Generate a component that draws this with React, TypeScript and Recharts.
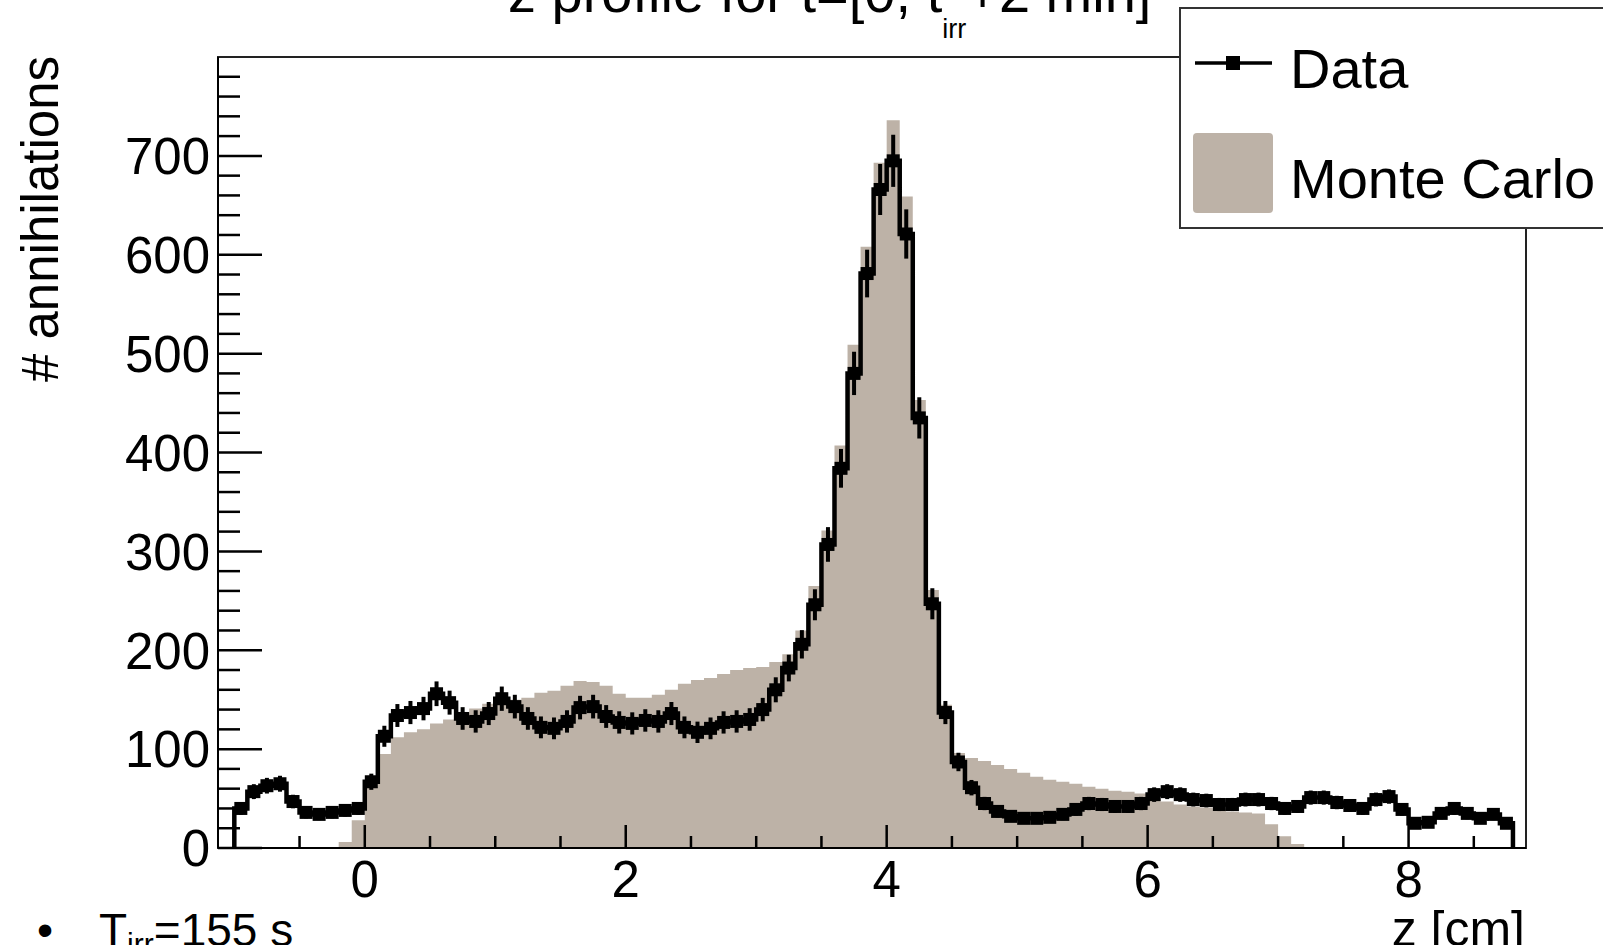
import { ComposedChart, Area, Line, XAxis, YAxis, ErrorBar, ReferenceArea } from "recharts";

const FONT = "'Liberation Sans', Arial, Helvetica, sans-serif";
const MC_COLOR = "#bdb2a7";

// histogram binning: 98 bins of 0.1 cm starting at z = -1.0 cm
const Z_START = -1.0;
const BIN_WIDTH = 0.1;

// measured counts per bin (Data)
const dataCounts = [
  40, 57, 63, 65, 47, 36, 34, 36, 38, 40,
  67, 113, 134, 137, 141, 156, 147, 131, 128, 136,
  151, 143, 131, 122, 121, 128, 142, 143, 133, 127,
  126, 129, 128, 136, 122, 117, 121, 127, 128, 130,
  140, 160, 182, 206, 246, 307, 384, 480, 581, 666,
  695, 621, 435, 247, 137, 87, 61, 45, 37, 32,
  30, 30, 31, 34, 39, 45, 44, 42, 42, 45,
  54, 57, 54, 49, 48, 44, 44, 49, 49, 45,
  40, 42, 51, 51, 46, 43, 40, 49, 52, 39,
  25, 26, 35, 40, 35, 30, 34, 25,
];

// simulated counts per bin (Monte Carlo)
const mcCounts = [
  0, 0, 0, 0, 0, 0, 0, 0, 6, 28,
  62, 95, 112, 117, 120, 126, 130, 136, 141, 146,
  150, 150, 152, 157, 159, 164, 169, 168, 164, 156,
  152, 152, 155, 160, 166, 170, 172, 176, 180, 182,
  183, 188, 196, 220, 265, 321, 407, 509, 608, 693,
  736, 659, 453, 261, 145, 96, 91, 88, 84, 80,
  76, 72, 69, 67, 65, 62, 60, 58, 57, 55,
  50, 47, 44, 42, 41, 39, 37, 36, 35, 24,
  12, 4, 1, 0, 0, 0, 0, 0, 0, 0,
  0, 0, 0, 0, 0, 0, 0, 0,
];

const yMajorTicks = [0, 100, 200, 300, 400, 500, 600, 700];
const yTicks = Array.from({ length: 40 }, (_, i) => i * 20);
const xMajorTicks = [0, 2, 4, 6, 8];
const xTicks = Array.from({ length: 20 }, (_, i) => -1 + i * 0.5);

const legendItems = [
  { name: "Data", kind: "marker", y: 63, baseline: 88 },
  { name: "Monte Carlo", kind: "fill", y: 173, baseline: 198 },
];

const r2 = (v: number) => Math.round(v * 1000) / 1000;
const lowEdges = dataCounts.map((_, i) => r2(Z_START + i * BIN_WIDTH));
const zEnd = r2(Z_START + dataCounts.length * BIN_WIDTH);

const stepsOf = (counts: number[]) => [
  { x: Z_START, v: 0 },
  ...counts.map((c, i) => ({ x: lowEdges[i], v: c })),
  { x: zEnd, v: 0 },
];
const dataSteps = stepsOf(dataCounts);
const mcSteps = stepsOf(mcCounts);
const dataPoints = dataCounts.map((c, i) => ({
  x: r2(lowEdges[i] + BIN_WIDTH / 2),
  v: c,
  err: Math.sqrt(c),
}));

const renderYTick = (props: any) => {
  const { x, y, payload } = props;
  const major = yMajorTicks.includes(payload.value);
  return (
    <g>
      <line x1={x} x2={x + (major ? 44 : 22)} y1={y} y2={y} stroke="#000" strokeWidth={2.5} />
      {major && (
        <text x={x - 8} y={y} dy="0.36em" textAnchor="end" fontSize={51} fontFamily={FONT} fill="#000">
          {payload.value}
        </text>
      )}
    </g>
  );
};

const renderXTick = (props: any) => {
  const { x, y, payload } = props;
  const major = xMajorTicks.includes(payload.value);
  return (
    <g>
      <line x1={x} x2={x} y1={y} y2={y - (major ? 23 : 12)} stroke="#000" strokeWidth={2.5} />
      {major && (
        <text x={x} y={y + 49} textAnchor="middle" fontSize={51} fontFamily={FONT} fill="#000">
          {payload.value}
        </text>
      )}
    </g>
  );
};

const renderMarker = (props: any) => {
  const { cx, cy, index } = props;
  if (cx == null || cy == null) return <g key={index} />;
  return <rect key={index} x={cx - 6.5} y={cy - 6.5} width={13} height={13} fill="#000" />;
};

const App = () => {
  return (
    <div style={{ position: "absolute", left: 0, top: 0, width: 1603, height: 945, background: "#fff", overflow: "hidden" }}>
      <ComposedChart width={1603} height={945} margin={{ top: 57, right: 77, left: 118, bottom: 37 }}>
        <XAxis
          dataKey="x"
          type="number"
          domain={[-1.125, 8.9]}
          allowDataOverflow
          ticks={xTicks}
          interval={0}
          tick={renderXTick}
          tickLine={false}
          tickSize={0}
          tickMargin={0}
          height={60}
          axisLine={{ stroke: "#000", strokeWidth: 2 }}
        />
        <YAxis
          type="number"
          domain={[0, 800]}
          allowDataOverflow
          ticks={yTicks}
          interval={0}
          tick={renderYTick}
          tickLine={false}
          tickSize={0}
          tickMargin={0}
          width={100}
          axisLine={{ stroke: "#000", strokeWidth: 2 }}
        />
        <Area
          data={mcSteps}
          dataKey="v"
          type="stepAfter"
          fill={MC_COLOR}
          fillOpacity={1}
          stroke="none"
          isAnimationActive={false}
        />
        <Line
          data={dataSteps}
          dataKey="v"
          type="stepAfter"
          stroke="#000"
          strokeWidth={4.5}
          dot={false}
          activeDot={false}
          isAnimationActive={false}
        />
        <Line
          data={dataPoints}
          dataKey="v"
          stroke="none"
          dot={renderMarker}
          activeDot={false}
          isAnimationActive={false}
        >
          <ErrorBar dataKey="err" direction="y" width={0} stroke="#000" strokeWidth={4} />
        </Line>
        <ReferenceArea x1={-1.125} x2={8.9} y1={0} y2={800} fill="none" stroke="#222" strokeWidth={2} ifOverflow="visible" />
      </ComposedChart>

      <svg width={1603} height={945} style={{ position: "absolute", left: 0, top: 0, pointerEvents: "none" }}>
        <text x={508} y={12} fontSize={56} fontFamily={FONT} fill="#000">
          z profile for t=[0, t
          <tspan dy={26} fontSize={27}>irr</tspan>
          <tspan dy={-26} fontSize={56}>+2 min]</tspan>
        </text>

        <text transform="translate(58, 56) rotate(-90)" textAnchor="end" fontSize={51} fontFamily={FONT} fill="#000">
          # annihilations
        </text>
        <text x={1525} y={946} textAnchor="end" fontSize={50} fontFamily={FONT} fill="#000">
          z [cm]
        </text>

        <text x={37} y={946} fontSize={46} fontFamily={FONT} fill="#000">•</text>
        <text x={99} y={946} fontSize={46} fontFamily={FONT} fill="#000">
          T<tspan dy={8} fontSize={30}>irr</tspan>
          <tspan dy={-8} fontSize={46}>=155 s</tspan>
        </text>

        <rect x={1180} y={8} width={440} height={220} fill="#fff" stroke="#333" strokeWidth={2} />
        {legendItems.map((item) => (
          <g key={item.name}>
            {item.kind === "marker" ? (
              <g>
                <line x1={1195} x2={1272} y1={item.y} y2={item.y} stroke="#000" strokeWidth={3.5} />
                <rect x={1226} y={item.y - 7} width={14} height={14} fill="#000" />
              </g>
            ) : (
              <rect x={1193} y={item.y - 40} width={80} height={80} rx={4} fill={MC_COLOR} />
            )}
            <text x={1290} y={item.baseline} fontSize={56} fontFamily={FONT} fill="#000">
              {item.name}
            </text>
          </g>
        ))}
      </svg>
    </div>
  );
};

export default App;
